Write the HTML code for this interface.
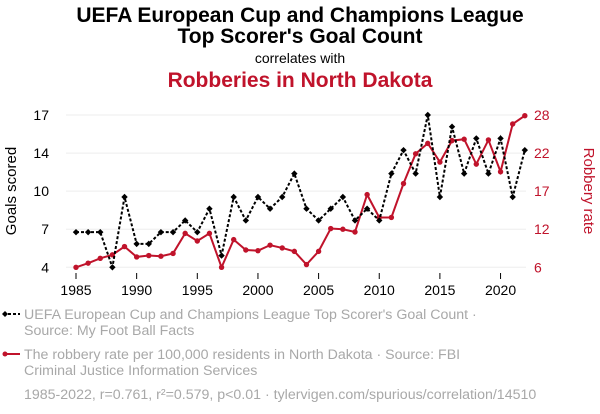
<!DOCTYPE html>
<html><head><meta charset="utf-8">
<style>
body{margin:0;background:#fff;width:600px;height:414px;overflow:hidden;font-family:"Liberation Sans",sans-serif;}
svg{display:block}
</style></head><body>
<svg id="chart" width="600" height="414">
<text x="300" y="22" text-anchor="middle" font-size="21" font-weight="bold" fill="#000">UEFA European Cup and Champions League</text>
<text x="300" y="43" text-anchor="middle" font-size="21" font-weight="bold" fill="#000">Top Scorer's Goal Count</text>
<text x="300" y="63" text-anchor="middle" font-size="14" fill="#000">correlates with</text>
<text x="300" y="87" text-anchor="middle" font-size="21" font-weight="bold" fill="#c0132b">Robberies in North Dakota</text>
<text transform="translate(16,191) rotate(-90)" text-anchor="middle" font-size="15" fill="#000">Goals scored</text>
<text transform="translate(584,191) rotate(90)" text-anchor="middle" font-size="15" fill="#c0132b">Robbery rate</text>
<g id="grid"></g><g id="axes"></g><g id="series"></g>
<g>
<g>
<line x1="3" y1="314" x2="20" y2="314" stroke="#000" stroke-width="2" stroke-dasharray="3,2"/>
<path d="M5 311 L8 314 L5 317 L2 314Z" fill="#000"/>
<text x="24" y="319" font-size="14.2" fill="#a8a8a8">UEFA European Cup and Champions League Top Scorer's Goal Count ·</text>
<text x="24" y="335" font-size="14.2" fill="#a8a8a8">Source: My Foot Ball Facts</text>
</g>
<g>
<line x1="3" y1="354" x2="20" y2="354" stroke="#c0132b" stroke-width="2"/>
<circle cx="5" cy="354" r="2.5" fill="#c0132b"/>
<text x="24" y="359" font-size="14.2" fill="#a8a8a8">The robbery rate per 100,000 residents in North Dakota · Source: FBI</text>
<text x="24" y="375" font-size="14.2" fill="#a8a8a8">Criminal Justice Information Services</text>
</g>
<text x="24" y="399" font-size="14.2" fill="#a8a8a8">1985-2022, r=0.761, r²=0.579, p&lt;0.01 · tylervigen.com/spurious/correlation/14510</text>
</g>
</svg>
<script>
const years=[1985,1986,1987,1988,1989,1990,1991,1992,1993,1994,1995,1996,1997,1998,1999,2000,2001,2002,2003,2004,2005,2006,2007,2008,2009,2010,2011,2012,2013,2014,2015,2016,2017,2018,2019,2020,2021,2022];
const goals=[7,7,7,4,10,6,6,7,7,8,7,9,5,10,8,10,9,10,12,9,8,9,10,8,9,8,12,14,12,17,10,16,12,15,12,15,10,14];
const robbery=[6.0,6.6,7.3,7.8,9.0,7.5,7.7,7.6,8.0,10.9,9.8,10.9,6.0,10.0,8.5,8.4,9.2,8.8,8.3,6.4,8.3,11.6,11.5,11.1,16.5,13.2,13.2,18.1,22.4,23.9,21.2,24.3,24.5,20.9,24.4,19.8,26.7,27.9];
const leftTicks=[4,7.25,10.5,13.75,17];
const leftLabels=["4","7","10","14","17"];
const rightTicks=[6,11.5,17,22.5,28];
const rightLabels=["6","12","17","22","28"];
const xTicks=[1985,1990,1995,2000,2005,2010,2015,2020];

const NS="http://www.w3.org/2000/svg";
const X=y=>76+(y-1985)*12.13;
const YL=v=>267.3-(v-4)*(152.3/13);
const YR=v=>267.3-(v-6)*(152.3/22);
function mk(t,a,p){const e=document.createElementNS(NS,t);for(const k in a)e.setAttribute(k,a[k]);p.appendChild(e);return e;}
const grid=document.getElementById('grid'),axes=document.getElementById('axes'),ser=document.getElementById('series');
leftTicks.forEach((v,i)=>{
  const g=mk('line',{x1:66,x2:526,y1:YL(v),y2:YL(v),stroke:'#eeeeee','stroke-width':1},grid);
  
  
  const t=mk('text',{x:49,y:YL(v)+5,'text-anchor':'end','font-size':14,fill:'#000'},axes);
  t.textContent=leftLabels[i];
  
  
});
rightTicks.forEach((v,i)=>{
  const t=mk('text',{x:534,y:YR(v)+5,'text-anchor':'start','font-size':14,fill:'#c0132b'},axes);
  t.textContent=rightLabels[i];
  
  
});
xTicks.forEach(v=>{
  const l=mk('line',{x1:X(v),x2:X(v),y1:273,y2:279,stroke:'#000','stroke-width':1},axes);
  
  
  const t=mk('text',{x:X(v),y:295,'text-anchor':'middle','font-size':14,fill:'#000'},axes);
  t.textContent=v;
  
  
});
const rl=mk('polyline',{points:years.map((y,i)=>X(y)+','+YR(robbery[i])).join(' '),fill:'none',stroke:'#c0132b','stroke-width':2},ser);


years.forEach((y,i)=>{
  const c=mk('circle',{cx:X(y),cy:YR(robbery[i]),r:2.7,fill:'#c0132b'},ser);
  
  
});
const gl=mk('polyline',{points:years.map((y,i)=>X(y)+','+YL(goals[i])).join(' '),fill:'none',stroke:'#000','stroke-width':2,'stroke-dasharray':'3,2'},ser);


years.forEach((y,i)=>{
  const x=X(y),yy=YL(goals[i]);
  const p=mk('path',{d:`M${x} ${yy-3.2} L${x+3.2} ${yy} L${x} ${yy+3.2} L${x-3.2} ${yy}Z`,fill:'#000'},ser);
  
  
});
</script>
</body></html>
